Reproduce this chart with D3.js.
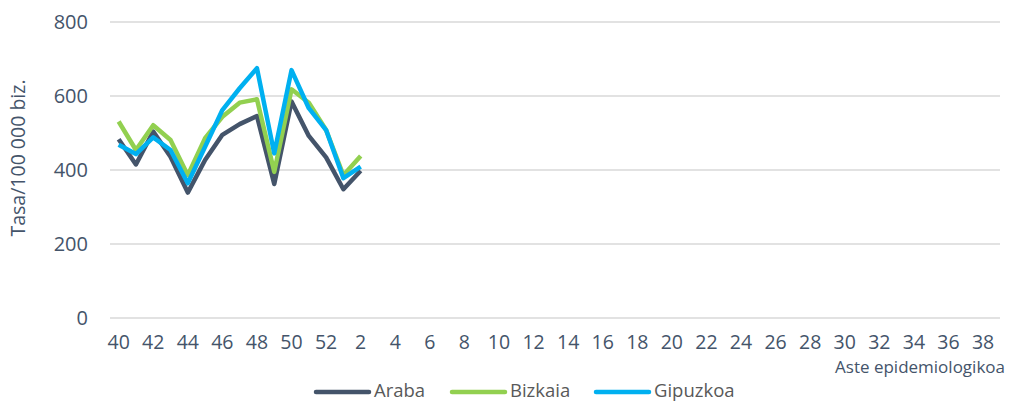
<!DOCTYPE html>
<html>
<head>
<meta charset="utf-8">
<script src="https://cdn.jsdelivr.net/npm/d3@7"></script>
<style>
  body { margin: 0; background: #fff; }
  svg { display: block; font-family: "Open Sans", sans-serif; }
</style>
</head>
<body>
<svg id="chart" width="1009" height="403"></svg>
<script>
// Weeks 40..52 then 1..39
const weeks = d3.range(40, 53).concat(d3.range(1, 40));
const yTicks = [0, 200, 400, 600, 800];

const araba    = [483, 415, 504, 436, 339, 427, 495, 524, 546, 362, 585, 492, 434, 348, 398];
const bizkaia  = [531, 454, 521, 481, 386, 486, 544, 582, 591, 395, 618, 582, 508, 386, 438];
const gipuzkoa = [468, 443, 488, 454, 364, 463, 562, 621, 675, 445, 670, 567, 508, 378, 409];

const series = [
  { name: 'Araba', values: araba, color: '#44546A' },
  { name: 'Bizkaia', values: bizkaia, color: '#92D050' },
  { name: 'Gipuzkoa', values: gipuzkoa, color: '#00B0F0' }
];

const svg = d3.select('#chart');
const margin = { left: 110, right: 1009, top: 22, bottom: 318 };

const x = d3.scaleBand().domain(weeks).range([margin.left, margin.right]);
const y = d3.scaleLinear().domain([0, 800]).range([margin.bottom, margin.top]);

// gridlines
svg.append('g').selectAll('line').data(yTicks).join('line')
  .attr('x1', margin.left).attr('x2', 1000)
  .attr('y1', d => y(d)).attr('y2', d => y(d))
  .attr('stroke', '#d9d9d9').attr('stroke-width', 1.5);

// y tick labels
svg.append('g').selectAll('text').data(yTicks).join('text')
  .attr('x', 88).attr('y', d => y(d)).attr('dy', '0.35em')
  .attr('text-anchor', 'end')
  .style('font-size', '20px').style('fill', '#44546A')
  .text(d => d);

// x tick labels, every other week
svg.append('g').selectAll('text').data(weeks.filter((d, i) => i % 2 === 0)).join('text')
  .attr('x', d => x(d) + x.bandwidth() / 2).attr('y', 349)
  .attr('text-anchor', 'middle')
  .style('font-size', '19.5px').style('fill', '#44546A')
  .text(d => d);

// axis titles
svg.append('text')
  .attr('transform', 'translate(25,158) rotate(-90)')
  .attr('text-anchor', 'middle')
  .style('font-size', '19.5px').style('fill', '#44546A')
  .text('Tasa/100 000 biz.');

svg.append('text')
  .attr('x', 1005).attr('y', 373)
  .attr('text-anchor', 'end')
  .style('font-size', '17px').style('fill', '#44546A')
  .text('Aste epidemiologikoa');

// lines
const line = d3.line()
  .x((d, i) => x(weeks[i]) + x.bandwidth() / 2)
  .y(d => y(d));

series.forEach(s => {
  svg.append('path').datum(s.values)
    .attr('d', line)
    .attr('fill', 'none')
    .attr('stroke', s.color)
    .attr('stroke-width', 4.5)
    .attr('stroke-linejoin', 'round');
});

// legend
const legendX = [316, 452, 596];
const legend = svg.append('g').selectAll('g').data(series).join('g')
  .attr('transform', (d, i) => `translate(${legendX[i]},392)`);
legend.append('line')
  .attr('x1', 0).attr('x2', 53)
  .attr('stroke', d => d.color).attr('stroke-width', 4.5)
  .attr('stroke-linecap', 'round');
legend.append('text')
  .attr('x', 58).attr('y', 5)
  .style('font-size', '18.5px').style('fill', '#595959')
  .text(d => d.name);
</script>
</body>
</html>
